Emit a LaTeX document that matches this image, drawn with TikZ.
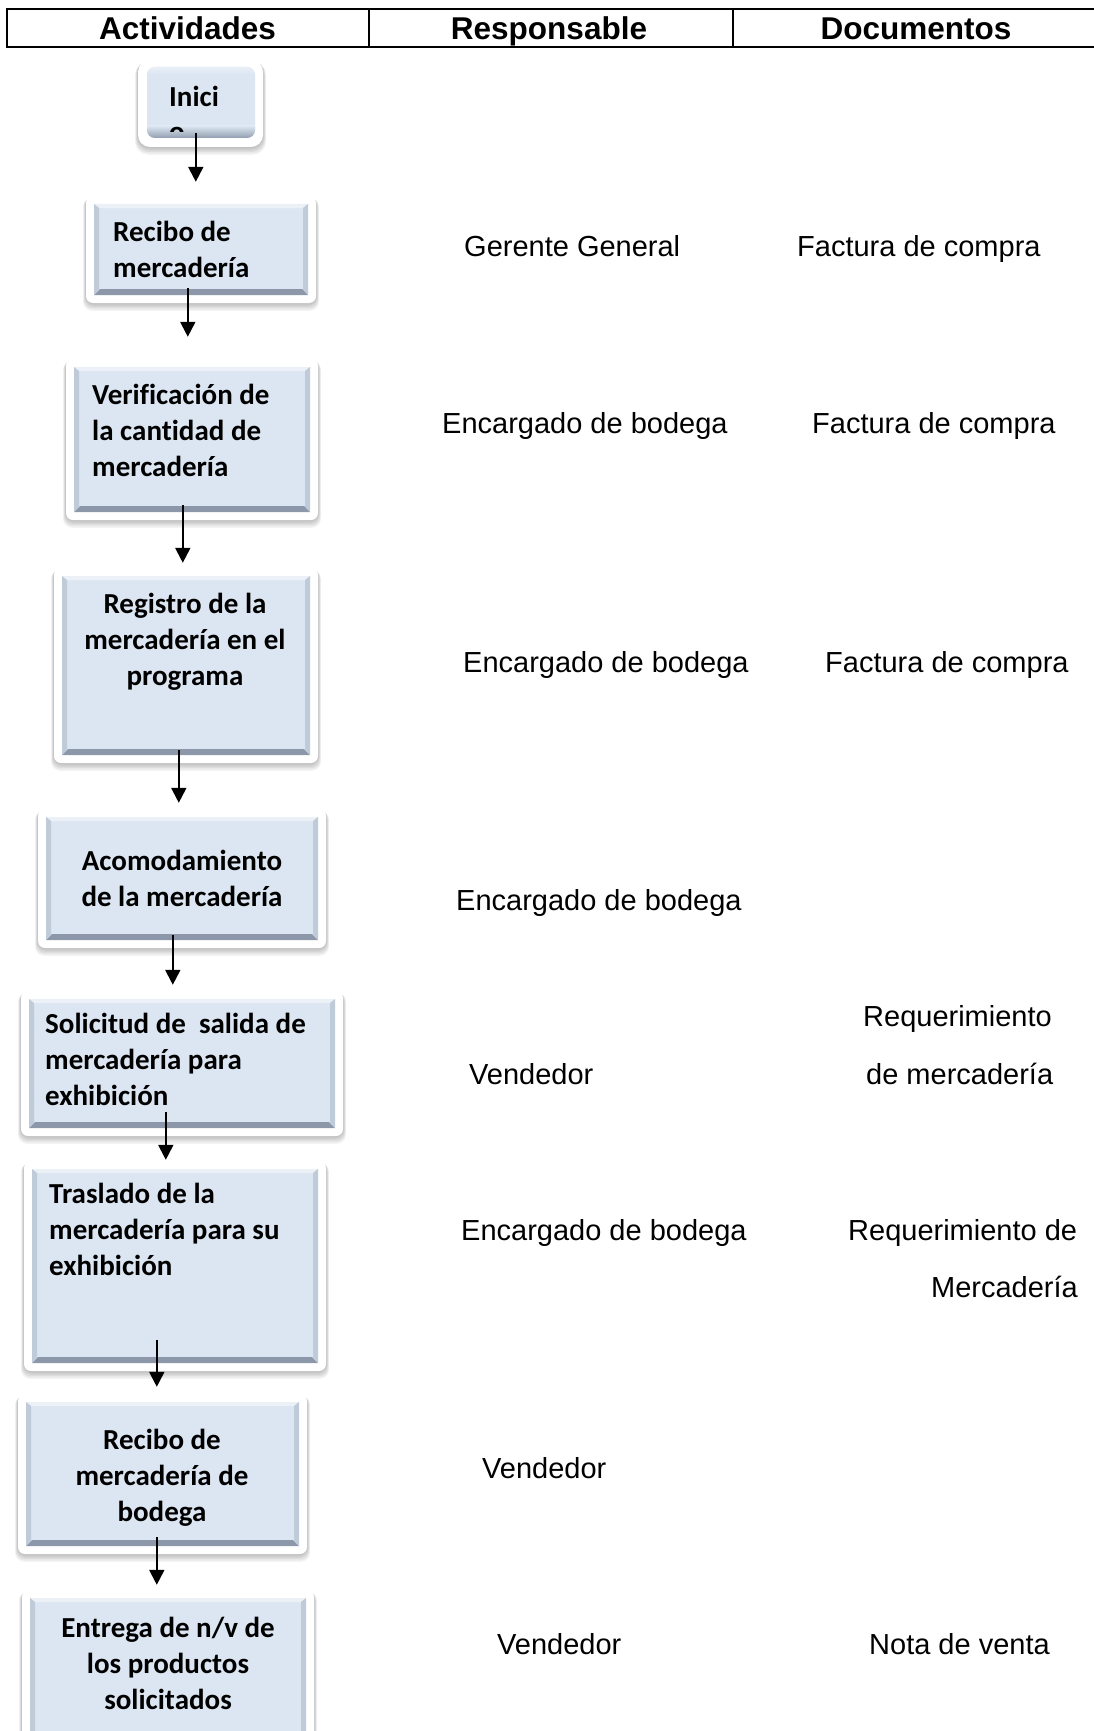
\documentclass[tikz,border=0pt]{standalone}
\usepackage{fontspec}
\setmainfont{Liberation Sans}
\newfontfamily\calfont{Carlito}[Ligatures={NoCommon}]
\usetikzlibrary{arrows.meta,calc}
\definecolor{boxfill}{RGB}{220,230,242}
\definecolor{bevtop}{RGB}{236,241,248}
\definecolor{bevbot}{RGB}{140,152,170}
\definecolor{bevside}{RGB}{192,203,218}
\tikzset{
  arr/.style={line width=2pt, -{Triangle[width=15pt,length=15pt]}},
  boxtext/.style={font=\calfont\bfseries\fontsize{29}{36}\selectfont, inner sep=0pt},
  bodytext/.style={font=\fontsize{29}{36}\selectfont, inner sep=0pt, anchor=base west},
  headtext/.style={font=\bfseries\fontsize{31.5}{36}\selectfont, inner sep=0pt, anchor=base},
  hline/.style={line width=2pt},
}
\newcommand{\flowbox}[5]{%
  \foreach \s in {1,...,6}{\fill[black,opacity=0.045,rounded corners=9pt] (#2-8-\s*0.5,#3-8+\s*0.3) rectangle (#4+8+\s*0.5,#5+8+\s*1.3);}
  \fill[white,rounded corners=7pt] (#2-8,#3-8) rectangle (#4+8,#5+8);
  \node[inner sep=0pt, minimum width={#4pt-#2pt}, minimum height={#5pt-#3pt}, fill=boxfill] (#1) at ({(#2+#4)/2},{(#3+#5)/2}) {};
  \fill[bevtop] (#2,#3) -- (#4,#3) -- (#4-4,#3+4) -- (#2+4,#3+4) -- cycle;
  \fill[bevbot] (#2,#5) -- (#4,#5) -- (#4-6,#5-6) -- (#2+6,#5-6) -- cycle;
  \fill[bevside] (#2,#3) -- (#2+5,#3+4) -- (#2+5,#5-6) -- (#2,#5) -- cycle;
  \fill[bevside] (#4,#3) -- (#4-5,#3+4) -- (#4-5,#5-6) -- (#4,#5) -- cycle;
}
\begin{document}
\begin{tikzpicture}[x=1pt,y=-1pt]
\useasboundingbox (0,0) rectangle (1094,1731);
\clip (0,0) rectangle (1094,1731);
\fill[white] (0,0) rectangle (1094,1731);

% header
\draw[hline] (6,9) -- (1094,9);
\draw[hline] (6,47) -- (1094,47);
\draw[hline] (7,8) -- (7,48);
\draw[hline] (369,9) -- (369,47);
\draw[hline] (733,9) -- (733,47);
\node[headtext] (h1) at (187.5,40) {Actividades};
\node[headtext] (h2) at (549,40) {Responsable};
\node[headtext] (h3) at (916,40) {Documentos};

% start box
\foreach \s in {1,...,6}{\fill[black,opacity=0.045,rounded corners=13pt] (138-\s*0.5,60+\s*0.3) rectangle (263+\s*0.5,147+\s*1.3);}
\fill[white,rounded corners=12pt] (138,60) rectangle (263,147);
\node[inner sep=0pt, minimum width=108pt, minimum height=71pt, fill=boxfill, rounded corners=8pt] (s0) at (201,102.5) {};
\begin{scope}
  \clip[rounded corners=8pt] (147,67) rectangle (255,138);
  \shade[top color=boxfill, bottom color=bevbot] (147,126) rectangle (255,139);
  \shade[top color=bevtop, bottom color=boxfill] (147,66) rectangle (255,74);
\end{scope}
\begin{scope}
  \clip (147,67) rectangle (255,132);
  \node[boxtext, anchor=base west] (s0b) at (169,142) {o};
\end{scope}
\node[boxtext, anchor=base west] (t0) at (169,107) {Inici};

% boxes
\flowbox{b1}{94}{204}{308}{295}
\flowbox{b2}{74}{367}{310}{512}
\flowbox{b3}{62}{576}{310}{755}
\flowbox{b4}{46}{817}{318}{940}
\flowbox{b5}{29}{999}{335}{1128}
\flowbox{b6}{32}{1169}{318}{1363}
\flowbox{b7}{26}{1402}{299}{1546}
\flowbox{b8}{30}{1598}{306}{1760}

% (anchor base = baseline of the last line)
\node[boxtext, anchor=base west, align=left] (t1) at (113,277) {Recibo de\\mercadería};
\node[boxtext, anchor=base west, align=left] (t2) at (92,476) {Verificación de\\la cantidad de\\mercadería};
\node[boxtext, anchor=base, align=center] (t3) at (185,685) {Registro de la\\mercadería en el\\programa};
\node[boxtext, anchor=base, align=center] (t4) at (182,906) {Acomodamiento\\de la mercadería};
\node[boxtext, anchor=base west, align=left] (t5) at (45,1105) {Solicitud de\ \ salida de\\mercadería para\\exhibición};
\node[boxtext, anchor=base west, align=left] (t6) at (49,1275) {Traslado de la\\mercadería para su\\exhibición};
\node[boxtext, anchor=base, align=center] (t7) at (162,1521) {Recibo de\\mercadería de\\bodega};
\node[boxtext, anchor=base, align=center] (t8) at (168,1709) {Entrega de n/v de\\los productos\\solicitados};

% arrows
\draw[arr] ($(s0.south west)+(49,-5)$) -- ($(b1.north west)+(102,-22)$);
\draw[arr] ($(b1.south west)+(94,-7)$) -- ($(b2.north west)+(114,-30)$);
\draw[arr] ($(b2.south west)+(109,-7)$) -- ($(b3.north west)+(121,-13)$);
\draw[arr] ($(b3.south west)+(117,-5)$) -- ($(b4.north west)+(133,-14)$);
\draw[arr] ($(b4.south west)+(127,-5)$) -- ($(b5.north west)+(144,-14)$);
\draw[arr] ($(b5.south west)+(137,-16)$) -- ($(b6.north west)+(134,-9)$);
\draw[arr] ($(b6.south west)+(125,-23)$) -- ($(b7.north west)+(131,-15)$);
\draw[arr] ($(b7.south west)+(131,-9)$) -- ($(b8.north west)+(127,-13)$);

% responsable
\node[bodytext] (r1) at (464,256) {Gerente General};
\node[bodytext] (r2) at (442,433) {Encargado de bodega};
\node[bodytext] (r3) at (463,672) {Encargado de bodega};
\node[bodytext] (r4) at (456,910) {Encargado de bodega};
\node[bodytext] (r5) at (469,1084) {Vendedor};
\node[bodytext] (r6) at (461,1240) {Encargado de bodega};
\node[bodytext] (r7) at (482,1478) {Vendedor};
\node[bodytext] (r8) at (497,1654) {Vendedor};

% documentos
\node[bodytext] (d1) at (797,256) {Factura de compra};
\node[bodytext] (d2) at (812,433) {Factura de compra};
\node[bodytext] (d3) at (825,672) {Factura de compra};
\node[bodytext] (d4a) at (863,1026) {Requerimiento};
\node[bodytext] (d4b) at (866,1084) {de mercadería};
\node[bodytext] (d5a) at (848,1240) {Requerimiento de};
\node[bodytext, anchor=base east] (d5b) at (1078,1297) {Mercadería};
\node[bodytext] (d6) at (869,1654) {Nota de venta};
\end{tikzpicture}
\end{document}
